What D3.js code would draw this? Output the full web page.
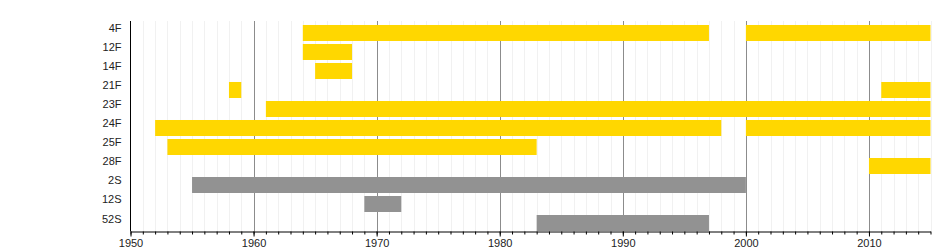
<!DOCTYPE HTML>
<html lang="en">
	<head>
		<title>Timeline</title>
		<style type="text/css">
			body {
				margin: 0;
				background-color: rgb(255, 255, 255);
			}
			text {
				font: 11px "Liberation Sans", Arial, sans-serif;
				fill: #222;
			}
		</style>
		<script src="https://d3js.org/d3.v7.min.js"></script>
	</head>
	<body>
		<div id="display"></div>
		<script>

			// rows, top to bottom
			var rows = ["4F", "12F", "14F", "21F", "23F", "24F", "25F", "28F", "2S", "12S", "52S"];

			// one entry per bar segment
			var segRow   = ["4F", "4F", "12F", "14F", "21F", "21F", "23F", "24F", "24F", "25F", "28F", "2S", "12S", "52S"];
			var segStart = [1964, 2000, 1964, 1965, 1958, 2011, 1961, 1952, 2000, 1953, 2010, 1955, 1969, 1983];
			var segEnd   = [1997, 2015, 1968, 1968, 1959, 2015, 2015, 1998, 2015, 1983, 2015, 2000, 1972, 1997];

			var yearRange = [1950, 2015];
			var decadeTicks = [1950, 1960, 1970, 1980, 1990, 2000, 2010];

			var colorF = "#ffd700";
			var colorS = "#929292";

			var width = 950, height = 250;
			var margin = {left: 130.5, right: 19.5, top: 21, bottom: 19};

			var svg = d3.select("#display").append("svg")
				.attr("width", width)
				.attr("height", height);

			var x = d3.scaleLinear()
				.domain(yearRange)
				.range([margin.left, width - margin.right]);

			var y = d3.scaleBand()
				.domain(rows)
				.range([margin.top, height - margin.bottom])
				.paddingInner(0.158)
				.paddingOuter(0.105)
				.align(1);

			var yBottom = height - margin.bottom;

			var years = d3.range(yearRange[0], yearRange[1] + 1);

			// minor grid (every year)
			svg.append("g")
				.selectAll("line")
				.data(years.filter(function(d) { return d % 10 != 0; }))
				.enter().append("line")
				.attr("x1", function(d) { return Math.round(x(d)) + 0.5; })
				.attr("x2", function(d) { return Math.round(x(d)) + 0.5; })
				.attr("y1", margin.top)
				.attr("y2", yBottom)
				.style("stroke", "#f1f1f1")
				.style("stroke-width", 1);

			// major grid (decades)
			svg.append("g")
				.selectAll("line")
				.data(decadeTicks.slice(1))
				.enter().append("line")
				.attr("x1", function(d) { return Math.round(x(d)) + 0.5; })
				.attr("x2", function(d) { return Math.round(x(d)) + 0.5; })
				.attr("y1", margin.top)
				.attr("y2", yBottom)
				.style("stroke", "#8c8c8c")
				.style("stroke-width", 1);

			// bars
			var segs = segRow.map(function(r, i) {
				return {row: r, start: segStart[i], end: segEnd[i]};
			});

			svg.append("g")
				.selectAll("rect")
				.data(segs)
				.enter().append("rect")
				.attr("x", function(d) { return x(d.start); })
				.attr("width", function(d) { return x(d.end) - x(d.start); })
				.attr("y", function(d) { return y(d.row); })
				.attr("height", y.bandwidth())
				.style("fill", function(d) { return d.row.slice(-1) == "S" ? colorS : colorF; });

			// x axis: minor ticks every year, labels at decades
			svg.append("g")
				.attr("transform", "translate(0," + (yBottom + 0.5) + ")")
				.call(d3.axisBottom(x).tickValues(years).tickSize(3).tickFormat(""))
				.call(function(g) { g.select(".domain").remove(); });

			var xAxis = svg.append("g")
				.attr("transform", "translate(0," + (yBottom + 0.5) + ")")
				.call(d3.axisBottom(x).tickValues(decadeTicks).tickSize(5).tickSizeOuter(0).tickPadding(3).tickFormat(d3.format("d")));
			xAxis.select(".domain").style("stroke", "#000");
			xAxis.selectAll("text").style("font", "11px 'Liberation Sans', Arial, sans-serif").style("fill", "#222");

			// y axis line
			svg.append("line")
				.attr("x1", margin.left)
				.attr("x2", margin.left)
				.attr("y1", margin.top)
				.attr("y2", yBottom + 0.5)
				.style("stroke", "#000")
				.style("stroke-width", 1);

			// row labels
			svg.append("g")
				.selectAll("text")
				.data(rows)
				.enter().append("text")
				.attr("x", margin.left - 9)
				.attr("y", function(d) { return y(d) + y.bandwidth() / 2 - 0.5; })
				.style("text-anchor", "end")
				.text(function(d) { return d; });

		</script>
	</body>
</html>
